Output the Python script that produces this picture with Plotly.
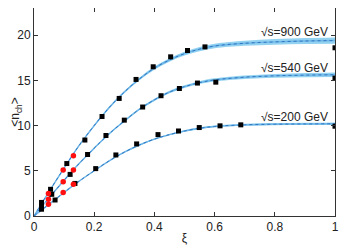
import plotly.graph_objects as go

# ---- data ----
xi_900 = [0.025, 0.055, 0.109, 0.169, 0.226, 0.283, 0.339, 0.396, 0.454, 0.51, 0.568, 1.0]
n_900 = [1.5, 2.95, 5.8, 8.4, 11.0, 13.0, 15.1, 16.5, 17.6, 18.3, 18.7, 18.6]

xi_540 = [0.025, 0.059, 0.12, 0.178, 0.239, 0.3, 0.361, 0.422, 0.483, 0.543, 0.604, 1.0]
n_540 = [1.1, 2.4, 4.6, 6.8, 8.9, 10.6, 12.05, 13.3, 14.1, 14.7, 14.8, 15.25]

xi_200 = [0.025, 0.07, 0.136, 0.205, 0.272, 0.341, 0.412, 0.48, 0.549, 0.618, 0.687, 1.0]
n_200 = [0.75, 1.77, 3.6, 5.24, 6.75, 7.97, 9.0, 9.4, 9.78, 9.97, 10.08, 9.93]

xi_red = [0.048, 0.097, 0.131]
red_900 = [2.5, 5.1, 6.65]
red_540 = [1.85, 3.8, 5.1]
red_200 = [1.3, 2.6, 3.5]

xi_fit = [0, 0.05, 0.1, 0.15, 0.2, 0.25, 0.3, 0.35, 0.4, 0.45, 0.5, 0.55, 0.6, 0.7, 0.8, 0.9, 1.0]
fit_900 = [0, 2.7, 5.3, 7.8, 10.0, 12.0, 13.7, 15.15, 16.35, 17.25, 17.95, 18.45, 18.8, 19.1, 19.25, 19.35, 19.4]
fit_540 = [0, 2.0, 3.95, 5.8, 7.5, 9.1, 10.5, 11.8, 12.85, 13.7, 14.3, 14.75, 15.05, 15.35, 15.5, 15.58, 15.62]
fit_200 = [0, 1.3, 2.6, 3.85, 5.0, 6.1, 7.05, 7.85, 8.5, 9.0, 9.4, 9.7, 9.9, 10.08, 10.15, 10.18, 10.2]
err_900 = [0, 0.03, 0.05, 0.07, 0.09, 0.11, 0.13, 0.15, 0.17, 0.19, 0.21, 0.23, 0.25, 0.28, 0.31, 0.33, 0.35]
err_540 = [0, 0.02, 0.04, 0.05, 0.07, 0.08, 0.1, 0.11, 0.12, 0.14, 0.15, 0.16, 0.17, 0.19, 0.21, 0.23, 0.25]
err_200 = [0, 0.01, 0.02, 0.03, 0.04, 0.05, 0.06, 0.07, 0.08, 0.08, 0.09, 0.1, 0.1, 0.11, 0.12, 0.13, 0.14]

labels = ["√s=900 GeV", "√s=540 GeV", "√s=200 GeV"]
label_y = [20.4, 16.4, 10.96]

x_ticks = [0, 0.2, 0.4, 0.6, 0.8, 1]
x_ticktext = ["0", "0.2", "0.4", "0.6", "0.8", "1"]
y_ticks = [0, 5, 10, 15, 20]

BAND = "rgba(110,195,235,0.75)"
LINE = "#2f78c4"
FONT = "Liberation Sans, Arial"

fig = go.Figure()
for fit, err in [(fit_900, err_900), (fit_540, err_540), (fit_200, err_200)]:
    up = [f + e for f, e in zip(fit, err)]
    lo = [f - e for f, e in zip(fit, err)]
    fig.add_trace(go.Scatter(x=xi_fit, y=up, mode="lines", line=dict(width=0, shape="spline"),
                             hoverinfo="skip", showlegend=False))
    fig.add_trace(go.Scatter(x=xi_fit, y=lo, mode="lines", line=dict(width=0, shape="spline"),
                             fill="tonexty", fillcolor=BAND, hoverinfo="skip", showlegend=False))
    fig.add_trace(go.Scatter(x=xi_fit, y=fit, mode="lines",
                             line=dict(color="rgba(110,180,230,1)", width=1.4, shape="spline"),
                             hoverinfo="skip", showlegend=False))
    fig.add_trace(go.Scatter(x=xi_fit, y=fit, mode="lines",
                             line=dict(color=LINE, width=1, dash="dot", shape="spline"),
                             showlegend=False))

for xs, ys in [(xi_900, n_900), (xi_540, n_540), (xi_200, n_200)]:
    fig.add_trace(go.Scatter(x=xs, y=ys, mode="markers",
                             marker=dict(symbol="square", size=5, color="black"),
                             showlegend=False))

for ys in [red_900, red_540, red_200]:
    fig.add_trace(go.Scatter(x=xi_red, y=ys, mode="markers",
                             marker=dict(symbol="circle", size=5.5, color="#ff1010"),
                             showlegend=False))

for t, yv in zip(labels, label_y):
    fig.add_annotation(x=0.985, y=yv, text=t, showarrow=False, xanchor="right", yanchor="middle",
                       font=dict(size=12, color="#222", family=FONT))

axis_common = dict(showgrid=False, zeroline=False, showline=True, linecolor="#333", linewidth=1,
                   mirror="ticks", ticks="inside", ticklen=4, tickcolor="#333", automargin=False,
                   tickfont=dict(size=12, color="#222", family=FONT))

fig.update_xaxes(range=[0, 1], tickvals=x_ticks, ticktext=x_ticktext,
                 title=dict(text="ξ", font=dict(size=12, color="#222", family=FONT), standoff=4),
                 **axis_common)
fig.update_yaxes(range=[0, 23], tickvals=y_ticks,
                 title=dict(text="<n<sub>ch</sub>>", font=dict(size=12, color="#222", family=FONT), standoff=4),
                 **axis_common)

# page body adds an 8px margin, so the figure is sized to fit the 350x245 window
fig.update_layout(width=342, height=237, margin=dict(l=26, r=15, t=0, b=29),
                  plot_bgcolor="white", paper_bgcolor="white",
                  font=dict(family=FONT, size=12))

fig.write_html("out.html")
